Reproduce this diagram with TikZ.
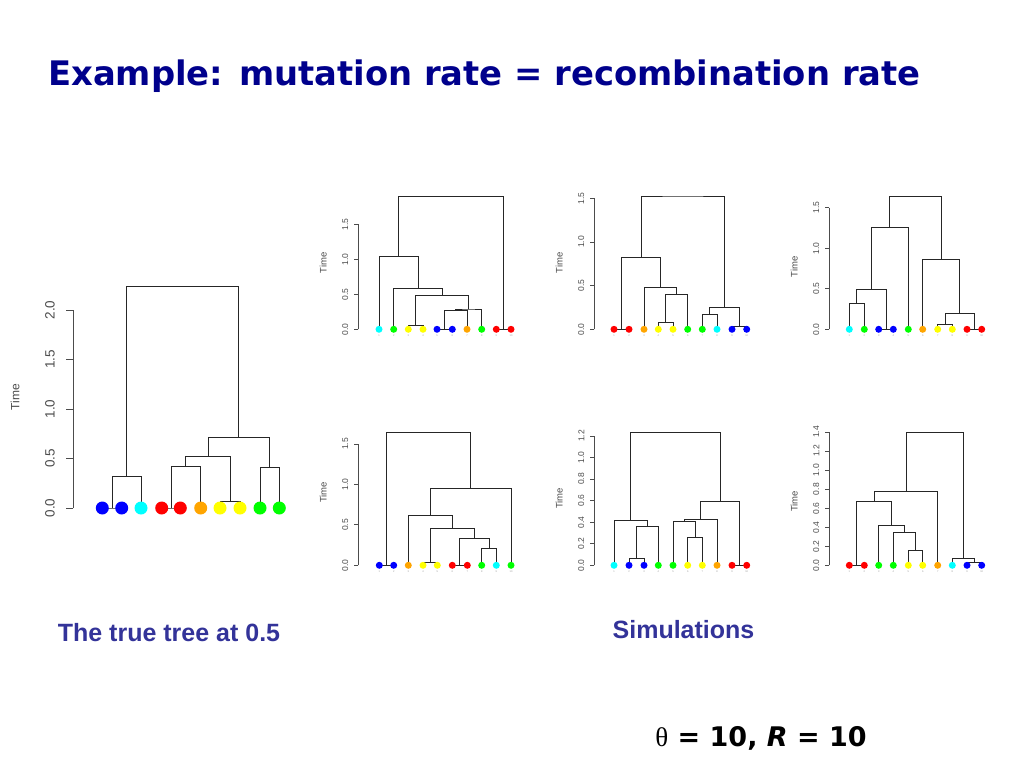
\documentclass[tikz,border=0pt]{standalone}
\usepackage{fontspec}
\setmainfont{Liberation Sans}
\newfontfamily\headfont{DejaVu Sans}
\newfontfamily\greekfont{Liberation Serif}
\usetikzlibrary{calc}

\definecolor{titleblue}{RGB}{0,0,140}
\definecolor{captionblue}{RGB}{51,51,153}
\definecolor{tblue}{RGB}{0,0,255}
\definecolor{tcyan}{RGB}{0,255,255}
\definecolor{tred}{RGB}{255,0,0}
\definecolor{torange}{RGB}{255,165,0}
\definecolor{tyellow}{RGB}{255,255,0}
\definecolor{tgreen}{RGB}{0,255,0}

\tikzset{
  branch/.style={draw=black!85, line width=0.8pt},
  axisline/.style={draw=black!70, line width=0.8pt},
  tip/.style={circle, inner sep=0pt, minimum size=7pt},
  bigtip/.style={circle, inner sep=0pt, minimum size=13pt},
  ticklabel/.style={rotate=90, inner sep=0pt, text=black!70, font=\fontsize{8.5}{8.5}\selectfont},
  bigticklabel/.style={rotate=90, inner sep=0pt, text=black!70, font=\fontsize{13.5}{13.5}\selectfont},
  leaflabel/.style={inner sep=0pt, text=black!40, font=\fontsize{2.5}{2.5}\selectfont},
  caption/.style={anchor=base, text=captionblue, font=\bfseries\fontsize{25}{25}\selectfont}
}

% join two subtrees at a given time
\newcommand{\joinpair}[4]{%
  \path ($(#2)!.5!(#3)$) coordinate (#1x);
  \path (0,#4) coordinate (#1y);
  \coordinate (#1) at (#1x |- #1y);
  \draw[branch] (#2) |- (#1) -| (#3);}

% time axis of a small tree: x, top, ticks, label height
\newcommand{\timeaxis}[4]{%
  \draw[axisline] (#1,0) -- (#1,#2);
  \foreach \tk in {#3} {
    \draw[axisline] (#1,\tk) -- ++(-4,0);
    \node[ticklabel] at ([xshift=-13pt]#1,\tk) {\tk};
  }
  \node[ticklabel, font=\fontsize{9.5}{9.5}\selectfont] at (#1-35,#4) {Time};}

\begin{document}
\begin{tikzpicture}[x=1pt, y=-1pt]
\useasboundingbox[fill=white] (0,0) rectangle (1024,768);

\node[anchor=base west, inner sep=0pt, text=titleblue, font=\headfont\bfseries\fontsize{33.8}{33.8}\selectfont]
  (title) at (48,85) {Example: mutation rate = recombination rate};

% the true tree
\begin{scope}[shift={(0,508)}, y=99pt]
  \draw[axisline] (73,0) -- (73,2);
  \foreach \tk in {0.0,0.5,1.0,1.5,2.0} {
    \draw[axisline] (73,\tk) -- ++(-7,0);
    \node[bigticklabel] at ([xshift=-23pt]73,\tk) {\tk};
  }
  \node[bigticklabel, font=\fontsize{12}{12}\selectfont] at (15,1.12) {Time};
  \foreach \x [count=\i] in {102.3,121.7,141,161.7,180.3,200.7,220,240,260,279.3}
    \coordinate (T\i) at (\x,0);
  \joinpair{Ta}{T1}{T2}{0}
  \joinpair{Tb}{Ta}{T3}{0.316}
  \joinpair{Tc}{T4}{T5}{0}
  \joinpair{Td}{Tc}{T6}{0.417}
  \joinpair{Te}{T7}{T8}{0.07}
  \joinpair{Tf}{Td}{Te}{0.52}
  \joinpair{Tg}{T9}{T10}{0.41}
  \joinpair{Th}{Tf}{Tg}{0.71}
  \joinpair{Ti}{Tb}{Th}{2.24}
  \foreach \c [count=\i] in {tblue,tblue,tcyan,tred,tred,torange,tyellow,tyellow,tgreen,tgreen}
    \node[bigtip, fill=\c] at (T\i) {};
\end{scope}

% simulation 1
\begin{scope}[shift={(0,329.3)}, y=70pt]
  \timeaxis{358.3}{1.5}{0.0,0.5,1.0,1.5}{0.95}
  \foreach \x [count=\i] in {379,393.7,408.3,423,437,452.3,467,481.7,496.3,511}
    \coordinate (A\i) at (\x,0);
  \joinpair{Aa}{A3}{A4}{0.06}
  \joinpair{Ab}{A5}{A6}{0}
  \joinpair{Ac}{Ab}{A7}{0.27}
  \joinpair{Ad}{Ac}{A8}{0.29}
  \joinpair{Ae}{Aa}{Ad}{0.48}
  \joinpair{Af}{A2}{Ae}{0.58}
  \joinpair{Ag}{A1}{Af}{1.043}
  \joinpair{Ah}{A9}{A10}{0}
  \joinpair{Ai}{Ag}{Ah}{1.905}
  \foreach \c [count=\i] in {tcyan,tgreen,tyellow,tyellow,tblue,tblue,torange,tgreen,tred,tred} {
    \node[tip, fill=\c] at (A\i) {};
    \node[leaflabel] at ([yshift=-6pt]A\i) {\i};
  }
\end{scope}

% simulation 2
\begin{scope}[shift={(0,329.3)}, y=87.3pt]
  \timeaxis{594.3}{1.5}{0.0,0.5,1.0,1.5}{0.76}
  \foreach \x [count=\i] in {614,629,644,658.3,673,687.7,702.3,717,732,746.7}
    \coordinate (B\i) at (\x,0);
  \joinpair{Ba}{B1}{B2}{0}
  \joinpair{Bb}{B4}{B5}{0.076}
  \joinpair{Bc}{Bb}{B6}{0.405}
  \joinpair{Bd}{B3}{Bc}{0.481}
  \joinpair{Be}{Ba}{Bd}{0.829}
  \joinpair{Bf}{B7}{B8}{0.176}
  \joinpair{Bg}{B9}{B10}{0.034}
  \joinpair{Bh}{Bf}{Bg}{0.248}
  \joinpair{Bi}{Be}{Bh}{1.527}
  \foreach \c [count=\i] in {tred,tred,torange,tyellow,tyellow,tgreen,tgreen,tcyan,tblue,tblue} {
    \node[tip, fill=\c] at (B\i) {};
    \node[leaflabel] at ([yshift=-6pt]B\i) {\i};
  }
\end{scope}

% simulation 3
\begin{scope}[shift={(0,329.3)}, y=81.1pt]
  \timeaxis{829.3}{1.5}{0.0,0.5,1.0,1.5}{0.77}
  \foreach \x [count=\i] in {849.3,864.3,878.7,893.3,908.3,922.7,937.7,952.3,967,981.7}
    \coordinate (C\i) at (\x,0);
  \joinpair{Ca}{C1}{C2}{0.32}
  \joinpair{Cb}{C3}{C4}{0}
  \joinpair{Cc}{Ca}{Cb}{0.489}
  \joinpair{Cd}{Cc}{C5}{1.258}
  \joinpair{Ce}{C7}{C8}{0.066}
  \joinpair{Cf}{C9}{C10}{0}
  \joinpair{Cg}{Ce}{Cf}{0.197}
  \joinpair{Ch}{C6}{Cg}{0.863}
  \joinpair{Ci}{Cd}{Ch}{1.644}
  \foreach \c [count=\i] in {tcyan,tgreen,tblue,tblue,tgreen,torange,tyellow,tyellow,tred,tred} {
    \node[tip, fill=\c] at (C\i) {};
    \node[leaflabel] at ([yshift=-6pt]C\i) {\i};
  }
\end{scope}

% simulation 4
\begin{scope}[shift={(0,565.3)}, y=80.9pt]
  \timeaxis{358.3}{1.5}{0.0,0.5,1.0,1.5}{0.9}
  \foreach \x [count=\i] in {379.3,393.7,408.3,423,437.3,452.3,467.3,481.7,496.3,511}
    \coordinate (D\i) at (\x,0);
  \joinpair{Da}{D1}{D2}{0}
  \joinpair{Db}{D4}{D5}{0.04}
  \joinpair{Dc}{D6}{D7}{0}
  \joinpair{Dd}{D8}{D9}{0.21}
  \joinpair{De}{Dc}{Dd}{0.334}
  \joinpair{Df}{Db}{De}{0.457}
  \joinpair{Dg}{D3}{Df}{0.618}
  \joinpair{Dh}{Dg}{D10}{0.952}
  \joinpair{Di}{Da}{Dh}{1.648}
  \foreach \c [count=\i] in {tblue,tblue,torange,tyellow,tyellow,tred,tred,tgreen,tcyan,tgreen} {
    \node[tip, fill=\c] at (D\i) {};
    \node[leaflabel] at ([yshift=-6pt]D\i) {\i};
  }
\end{scope}

% simulation 5
\begin{scope}[shift={(0,565.3)}, y=107.8pt]
  \timeaxis{594.3}{1.2}{0.0,0.2,0.4,0.6,0.8,1.0,1.2}{0.62}
  \foreach \x [count=\i] in {614,629,644,658.3,673,687.7,702.3,717,732,746.7}
    \coordinate (E\i) at (\x,0);
  \joinpair{Ea}{E2}{E3}{0.068}
  \joinpair{Eb}{Ea}{E4}{0.365}
  \joinpair{Ec}{E1}{Eb}{0.414}
  \joinpair{Ed}{E6}{E7}{0.26}
  \joinpair{Ee}{E5}{Ed}{0.405}
  \joinpair{Ef}{Ee}{E8}{0.427}
  \joinpair{Eg}{E9}{E10}{0}
  \joinpair{Eh}{Ef}{Eg}{0.594}
  \joinpair{Ei}{Ec}{Eh}{1.237}
  \foreach \c [count=\i] in {tcyan,tblue,tblue,tgreen,tgreen,tyellow,tyellow,torange,tred,tred} {
    \node[tip, fill=\c] at (E\i) {};
    \node[leaflabel] at ([yshift=-6pt]E\i) {\i};
  }
\end{scope}

% simulation 6
\begin{scope}[shift={(0,565.3)}, y=95.2pt]
  \timeaxis{829.3}{1.4}{0.0,0.2,0.4,0.6,0.8,1.0,1.2,1.4}{0.67}
  \foreach \x [count=\i] in {849.3,864.3,878.7,893.3,908.3,922.7,937.7,952.3,967,981.7}
    \coordinate (F\i) at (\x,0);
  \joinpair{Fa}{F1}{F2}{0}
  \joinpair{Fb}{F5}{F6}{0.161}
  \joinpair{Fc}{F4}{Fb}{0.343}
  \joinpair{Fd}{F3}{Fc}{0.42}
  \joinpair{Fe}{Fa}{Fd}{0.669}
  \joinpair{Ff}{Fe}{F7}{0.781}
  \joinpair{Fg}{F9}{F10}{0.028}
  \joinpair{Fh}{F8}{Fg}{0.077}
  \joinpair{Fi}{Ff}{Fh}{1.40}
  \foreach \c [count=\i] in {tred,tred,tgreen,tgreen,tyellow,tyellow,torange,tcyan,tblue,tblue} {
    \node[tip, fill=\c] at (F\i) {};
    \node[leaflabel] at ([yshift=-6pt]F\i) {\i};
  }
\end{scope}

\node[caption] (truetree) at (169,641.7) {The true tree at 0.5};
\node[caption] (simulations) at (683.5,638.3) {Simulations};
\node[anchor=base, font=\headfont\bfseries\fontsize{27}{27}\selectfont] (params) at (761,746)
  {{\greekfont\mdseries θ} = 10, \textit{R} = 10};
\end{tikzpicture}
\end{document}
